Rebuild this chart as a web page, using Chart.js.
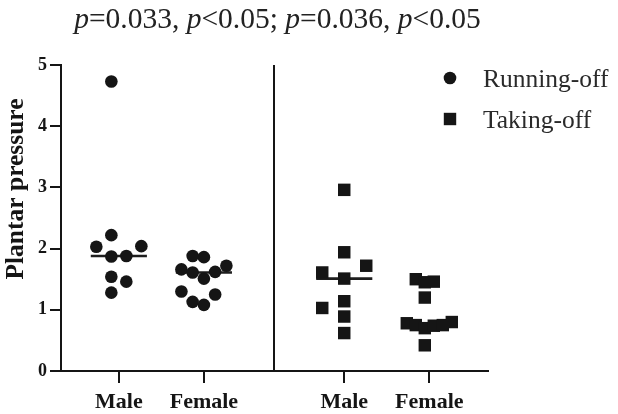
<!DOCTYPE html>
<html><head><meta charset="utf-8">
<script src="https://cdn.jsdelivr.net/npm/chart.js@4.4.0/dist/chart.umd.min.js"></script>
<style>html,body{margin:0;padding:0;background:#fff;}</style>
</head><body>
<canvas id="c" width="618" height="414"></canvas>
<script>
// ---------- data ----------
const categories = ['Male', 'Female', 'Male', 'Female'];
const seriesNames = ['Running-off', 'Taking-off'];
const runningMale   = [4.73, 2.22, 2.03, 2.04, 1.87, 1.88, 1.54, 1.46, 1.28];
const runningFemale = [1.86, 1.88, 1.66, 1.61, 1.62, 1.72, 1.51, 1.30, 1.25, 1.13, 1.08];
const takingMale    = [2.96, 1.94, 1.72, 1.51, 1.61, 1.14, 1.03, 0.89, 0.62];
const takingFemale  = [1.46, 1.50, 1.45, 1.20, 0.78, 0.75, 0.70, 0.80, 0.74, 0.75, 0.42];
const yTicks = [0, 1, 2, 3, 4, 5];
const yTitle = 'Plantar pressure';
const titleText = 'p=0.033, p<0.05; p=0.036, p<0.05';

// ---------- layout constants ----------
const groupPos = [1, 2, 3.65, 4.65];
const dividerPos = 2.825;
const X_MIN = 0.32, X_MAX = 5.34;
const MEDIAN_HALF = 0.33;
const SERIF = "'Liberation Serif', 'Times New Roman', serif";
const INK = '#151515';
const CLEARANCE = 14;

const groups = [
  {series: 0, pos: groupPos[0], vals: runningMale},
  {series: 0, pos: groupPos[1], vals: runningFemale},
  {series: 1, pos: groupPos[2], vals: takingMale},
  {series: 1, pos: groupPos[3], vals: takingFemale},
];

function median(a) {
  const s = [...a].sort((p, q) => p - q), m = Math.floor(s.length / 2);
  return s.length % 2 ? s[m] : (s[m - 1] + s[m]) / 2;
}

// beeswarm offsets (pixels) computed from the values
function swarm(vals, pxPerY, D) {
  const order = vals.map((v, i) => i).sort((a, b) => vals[a] - vals[b]);
  for (let n = 1; n <= 12; n++) {
    const sp = n === 1 ? 0 : Math.min(22, 45 / (n - 1));
    const slots = [];
    for (let k = 0; k < n; k++) slots.push(k - (n - 1) / 2);
    slots.sort((a, b) => Math.abs(a) - Math.abs(b) || a - b);
    const placed = slots.map(() => []);
    const off = new Array(vals.length);
    let ok = true;
    for (const i of order) {
      const y = vals[i] * pxPerY;
      let done = false;
      for (let s = 0; s < slots.length; s++) {
        if (placed[s].every(py => Math.abs(py - y) >= D)) {
          placed[s].push(y); off[i] = slots[s] * sp; done = true; break;
        }
      }
      if (!done) { ok = false; break; }
    }
    if (ok) return off;
  }
  return vals.map(() => 0);
}

function buildPoints(series, pxPerX, pxPerY) {
  const pts = [];
  groups.filter(g => g.series === series).forEach(g => {
    const off = pxPerX ? swarm(g.vals, pxPerY, CLEARANCE) : g.vals.map(() => 0);
    g.vals.forEach((v, i) => pts.push({x: g.pos + (pxPerX ? off[i] / pxPerX : 0), y: v}));
  });
  return pts;
}

const medianData = [];
groups.forEach((g, i) => {
  const m = median(g.vals);
  medianData.push({x: g.pos - MEDIAN_HALF, y: m}, {x: g.pos + MEDIAN_HALF, y: m});
  if (i < groups.length - 1) medianData.push({x: g.pos + 0.5, y: null});
});

// ---------- plugins ----------
const extras = {
  id: 'extras',
  afterDatasetsDraw(chart) {
    const {ctx, chartArea: ca, scales} = chart;
    ctx.save();
    const xd = Math.round(scales.x.getPixelForValue(dividerPos));
    ctx.strokeStyle = INK; ctx.lineWidth = 2;
    ctx.beginPath(); ctx.moveTo(xd, ca.top); ctx.lineTo(xd, ca.bottom); ctx.stroke();
    ctx.restore();
  },
  afterDraw(chart) {
    const {ctx, chartArea: ca} = chart;
    ctx.save();
    // title with italic p
    const parts = titleText.split(/(p)/).filter(s => s.length);
    const fonts = parts.map(s => s === 'p' ? `italic 29.5px ${SERIF}` : `29.5px ${SERIF}`);
    let total = 0;
    const widths = parts.map((s, i) => { ctx.font = fonts[i]; const w = ctx.measureText(s).width; total += w; return w; });
    let x = (ca.left + ca.right) / 2 - total / 2 + 3;
    ctx.fillStyle = '#222'; ctx.textBaseline = 'alphabetic'; ctx.textAlign = 'left';
    parts.forEach((s, i) => { ctx.font = fonts[i]; ctx.fillText(s, x, 28); x += widths[i]; });

    // y-axis title
    ctx.save();
    ctx.translate(16, 189);
    ctx.rotate(-Math.PI / 2);
    ctx.font = `bold 25.5px ${SERIF}`;
    ctx.textAlign = 'center'; ctx.textBaseline = 'middle';
    ctx.fillStyle = INK;
    ctx.fillText(yTitle, 0, 0);
    ctx.restore();

    // legend
    const legendItems = chart.data.datasets.filter(d => seriesNames.includes(d.label));
    legendItems.forEach((d, i) => {
      const cy = 78 + i * 41, cx = 450;
      ctx.fillStyle = INK;
      if (d.pointStyle === 'rect') {
        ctx.fillRect(cx - 6.2, cy - 6.2, 12.4, 12.4);
      } else {
        ctx.beginPath(); ctx.arc(cx, cy, 6.3, 0, Math.PI * 2); ctx.fill();
      }
      ctx.font = `25.5px ${SERIF}`;
      ctx.fillStyle = '#2a2a2a';
      ctx.textAlign = 'left'; ctx.textBaseline = 'alphabetic';
      ctx.fillText(d.label, 483, cy + 9);
    });
    ctx.restore();
  }
};

// ---------- chart ----------
const chart = new Chart(document.getElementById('c'), {
  type: 'scatter',
  data: {
    datasets: [
      {label: seriesNames[0], data: buildPoints(0), pointStyle: 'circle', pointRadius: 6.3,
       pointHoverRadius: 6.3, backgroundColor: INK, borderWidth: 0, order: 1},
      {label: seriesNames[1], data: buildPoints(1), pointStyle: 'rect', pointRadius: 8.8,
       pointHoverRadius: 8.8, backgroundColor: INK, borderWidth: 0, order: 1},
      {label: 'median', type: 'line', data: medianData, borderColor: '#1e1e1e', borderWidth: 2.6,
       pointRadius: 0, spanGaps: false, fill: false, order: 2}
    ]
  },
  options: {
    responsive: false,
    animation: false,
    devicePixelRatio: 1,
    layout: {padding: {left: 0, top: 65, right: 130, bottom: 0}},
    plugins: {legend: {display: false}, title: {display: false}, tooltip: {enabled: false}},
    scales: {
      x: {
        type: 'linear', min: X_MIN, max: X_MAX,
        afterBuildTicks: s => { s.ticks = groupPos.map(v => ({value: v})); },
        afterFit: s => { s.height = 43; },
        ticks: {
          callback: (v, i) => categories[i],
          font: {family: SERIF, size: 22, weight: 'bold'}, color: INK, padding: 6,
          maxRotation: 0, autoSkip: false
        },
        grid: {drawOnChartArea: false, drawTicks: true, tickLength: 12, color: INK, lineWidth: 2},
        border: {display: true, color: INK, width: 2}
      },
      y: {
        min: 0, max: 5,
        afterBuildTicks: s => { s.ticks = yTicks.map(v => ({value: v})); },
        afterFit: s => { s.width = 61; },
        ticks: {font: {family: SERIF, size: 18, weight: 'bold'}, color: INK, padding: 3},
        grid: {drawOnChartArea: false, drawTicks: true, tickLength: 11, color: INK, lineWidth: 2},
        border: {display: true, color: INK, width: 2}
      }
    }
  },
  plugins: [extras]
});

// place the points as a beeswarm using the scales' pixel sizes
const pxPerX = Math.abs(chart.scales.x.getPixelForValue(1) - chart.scales.x.getPixelForValue(0));
const pxPerY = Math.abs(chart.scales.y.getPixelForValue(0) - chart.scales.y.getPixelForValue(1));
chart.data.datasets[0].data = buildPoints(0, pxPerX, pxPerY);
chart.data.datasets[1].data = buildPoints(1, pxPerX, pxPerY);
chart.update('none');
</script>
</body></html>
